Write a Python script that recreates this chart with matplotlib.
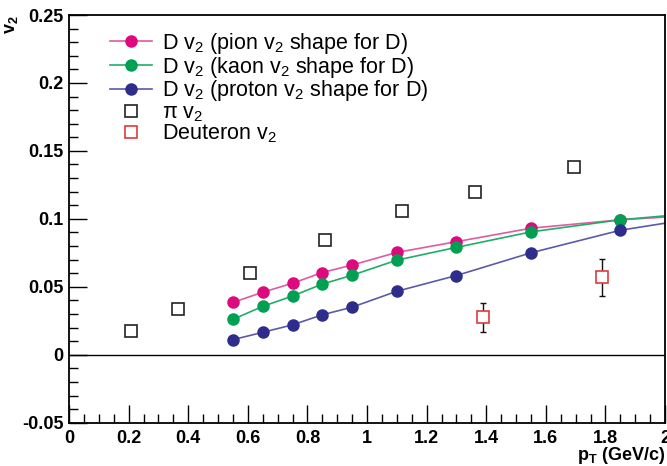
import numpy as np
import matplotlib
matplotlib.use("Agg")
import matplotlib.pyplot as plt
from matplotlib.ticker import MultipleLocator

plt.rcParams['font.family'] = ['Liberation Sans', 'DejaVu Sans']
plt.rcParams['mathtext.default'] = 'regular'

# D v2 points (three shape assumptions)
d_pt = [0.55, 0.65, 0.75, 0.85, 0.95, 1.10, 1.30, 1.55, 1.85]
d_pion = [0.0385, 0.046, 0.0526, 0.0605, 0.066, 0.0753, 0.0832, 0.0931, 0.0993]
d_kaon = [0.026, 0.0356, 0.0432, 0.052, 0.0585, 0.0696, 0.079, 0.0904, 0.0993]
d_proton = [0.0111, 0.0165, 0.022, 0.0294, 0.035, 0.0467, 0.0583, 0.075, 0.0916]
# curve values at the end of the range
curve_end_pt = 2.0
curve_end = {'pion': 0.1013, 'kaon': 0.1022, 'proton': 0.0968}

# pion v2
pi_pt = [0.208, 0.365, 0.608, 0.859, 1.117, 1.362, 1.695]
pi_v2 = [0.0178, 0.0333, 0.0602, 0.0842, 0.106, 0.1195, 0.1378]

# deuteron v2
deut_pt = [1.388, 1.79]
deut_v2 = [0.0276, 0.057]
deut_err = [0.0105, 0.0135]

fig = plt.figure(figsize=(6.67, 4.66), dpi=100)
ax = fig.add_axes([69/667, 1 - 422.7/466, (665 - 69)/667, (422.7 - 15)/466])

ax.axhline(0, color='black', linewidth=1.0, zorder=1)

series = [
    (d_pion, 'pion', '#dd0a7e', '#e25aa0', 'D v$_2$ (pion v$_2$ shape for D)'),
    (d_kaon, 'kaon', '#00a053', '#20ad68', 'D v$_2$ (kaon v$_2$ shape for D)'),
    (d_proton, 'proton', '#2e2d8c', '#5b5aa8', 'D v$_2$ (proton v$_2$ shape for D)'),
]
handles = []
for vals, key, mcol, lcol, lab in series:
    ax.plot(d_pt + [curve_end_pt], vals + [curve_end[key]], '-', color=lcol, linewidth=1.2, zorder=2)
    ax.plot(d_pt, vals, 'o', color=mcol, markersize=8, zorder=3)
    h, = ax.plot([], [], '-o', color=lcol, markerfacecolor=mcol, markeredgecolor=mcol,
                 markersize=8, linewidth=1.2, label=lab)
    handles.append(h)

h_pi, = ax.plot(pi_pt, pi_v2, 's', markerfacecolor='none', markeredgecolor='#222222',
                markersize=8, markeredgewidth=1.2, linestyle='none', label='π v$_2$', zorder=3)
ax.errorbar(deut_pt, deut_v2, yerr=deut_err, fmt='none', ecolor='#111111', elinewidth=1.0,
            capsize=2.5, zorder=2)
h_d, = ax.plot(deut_pt, deut_v2, 's', markerfacecolor='white', markeredgecolor='#e03a3a',
               markersize=8, markeredgewidth=1.2, linestyle='none', label='Deuteron v$_2$', zorder=4)
handles += [h_pi, h_d]

ax.set_xlim(0, 2)
ax.set_ylim(-0.05, 0.25)
ax.xaxis.set_minor_locator(MultipleLocator(0.05))
ax.yaxis.set_minor_locator(MultipleLocator(0.01))
ax.set_xticks(np.arange(0, 2.01, 0.2))
ax.set_xticklabels(['0', '0.2', '0.4', '0.6', '0.8', '1', '1.2', '1.4', '1.6', '1.8', '2'])
ax.set_yticks([-0.05, 0, 0.05, 0.1, 0.15, 0.2, 0.25])
ax.set_yticklabels(['-0.05', '0', '0.05', '0.1', '0.15', '0.2', '0.25'])
ax.tick_params(which='major', direction='in', length=13, width=1.0, labelsize=13, pad=4)
ax.tick_params(axis='x', which='major', pad=5)
ax.tick_params(which='minor', direction='in', length=6.5, width=1.0)
for lbl in ax.get_xticklabels() + ax.get_yticklabels():
    lbl.set_fontweight('bold')
for sp in ax.spines.values():
    sp.set_linewidth(1.3)

leg = ax.legend(handles=handles, loc='upper left', bbox_to_anchor=(110/667, 1 - 31/466),
                bbox_transform=fig.transFigure, frameon=False, fontsize=15.5,
                handlelength=1.95, handletextpad=0.45, labelspacing=-0.06, borderpad=0,
                borderaxespad=0)

fig.text(12/667, 1 - 15/466, 'v$_2$', rotation=90, ha='center', va='top',
         fontsize=13, fontweight='bold')
fig.text(665/667, 1 - 460/466, 'p$_T$ (GeV/c)', ha='right', va='baseline',
         fontsize=13, fontweight='bold')

fig.savefig('out.png', dpi=100)
